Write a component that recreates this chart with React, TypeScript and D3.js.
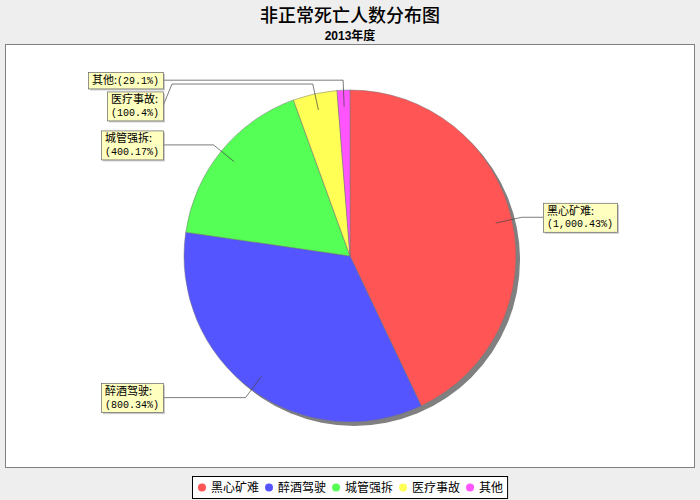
import { useEffect, useRef } from "react";
import * as d3 from "d3";

const categories = ["黑心矿难", "醉酒驾驶", "城管强拆", "医疗事故", "其他"];
const values = [1000, 800, 400, 100, 29];
const colors = ["#FF5555", "#5555FF", "#55FF55", "#FFFF55", "#FF55FF"];
// JFreeChart wrapped every label except the last one
const wrapLabel = [true, true, true, true, false];

const title = "非正常死亡人数分布图";
const subtitle = "2013年度";

const CJK = /[\u3000-\u9fff\uff00-\uffef]/;

// split a string into runs of CJK / non-CJK so each can get its own font
function appendRuns(text: d3.Selection<SVGTextElement, unknown, null, undefined>, str: string) {
  const runs: { cjk: boolean; s: string }[] = [];
  for (const ch of str) {
    const cjk = CJK.test(ch) || ch === ":";
    const last = runs[runs.length - 1];
    if (last && last.cjk === cjk) last.s += ch;
    else runs.push({ cjk, s: ch });
  }
  runs.forEach((r) => {
    text
      .append("tspan")
      .attr("font-family", r.cjk ? "'Noto Sans CJK SC'" : "'Liberation Mono', monospace")
      .attr("font-size", r.cjk ? 11 : 10)
      .text(r.s);
  });
}

const App = () => {
  const ref = useRef<SVGSVGElement>(null);

  useEffect(() => {
    const width = 700;
    const height = 500;
    const plot = { x: 5, y: 44, w: 690, h: 424 };
    const cx = 350;
    const cy = 256;
    const radius = 166;

    const svg = d3.select(ref.current);
    svg.selectAll("*").remove();

    svg.append("rect").attr("width", width).attr("height", height).attr("fill", "#eeeeee");

    // titles
    svg
      .append("text")
      .attr("x", width / 2)
      .attr("y", 22)
      .attr("text-anchor", "middle")
      .attr("font-family", "'Noto Sans CJK SC'")
      .attr("font-size", 18)
      .attr("font-weight", 500)
      .text(title);
    svg
      .append("text")
      .attr("x", width / 2)
      .attr("y", 40)
      .attr("text-anchor", "middle")
      .attr("font-family", "'Liberation Sans', 'Noto Sans CJK SC'")
      .attr("font-size", 12)
      .attr("font-weight", "bold")
      .text(subtitle);

    // plot area
    svg
      .append("rect")
      .attr("x", plot.x + 0.5)
      .attr("y", plot.y + 0.5)
      .attr("width", plot.w - 1)
      .attr("height", plot.h - 1)
      .attr("fill", "#ffffff")
      .attr("stroke", "#808080");

    const total = d3.sum(values);
    const pct = d3.format(".0%");
    const num = d3.format(",");

    const arcs = d3
      .pie<number>()
      .sort(null)
      .startAngle(0)
      .endAngle(2 * Math.PI)(values);
    const arc = d3.arc<d3.PieArcDatum<number>>().innerRadius(0).outerRadius(radius);

    const g = svg.append("g").attr("transform", `translate(${cx},${cy})`);

    // shadow
    svg
      .insert("circle", "g")
      .attr("cx", cx + 4)
      .attr("cy", cy + 4)
      .attr("r", radius)
      .attr("fill", "#808080");

    g.selectAll("path")
      .data(arcs)
      .enter()
      .append("path")
      .attr("d", arc)
      .attr("fill", (_, i) => colors[i])
      .attr("stroke", "#777")
      .attr("stroke-width", 0.5);

    const pt = (a: number, rr: number) => [cx + rr * Math.sin(a), cy - rr * Math.cos(a)];

    // labels
    const labels = arcs.map((d, i) => {
      const mid = (d.startAngle + d.endAngle) / 2;
      const right = mid < Math.PI;
      const inner = pt(mid, radius * 0.9);
      const elbow = pt(mid, radius * 1.06);
      const head = `${categories[i]}:`;
      const body = `(${num(values[i])}.${pct(values[i] / total)})`;
      const lines = wrapLabel[i] ? [head, body] : [head + body];
      return { i, right, inner, elbow, lines, top: 0, w: 0, h: 0 };
    });

    const labelLayer = svg.append("g");
    const linkLayer = svg.insert("g", "g:last-child");

    const padX = 3;
    const lineH = 12.5;
    const boxes = labels.map((l) => {
      const grp = labelLayer.append("g");
      const shadow = grp.append("rect").attr("fill", "rgba(151,151,151,0.5)");
      const bg = grp.append("rect").attr("fill", "#FFFFC0").attr("stroke", "#666").attr("stroke-width", 0.7);
      const texts = l.lines.map((s) => {
        const t = grp.append("text");
        appendRuns(t, s);
        return t;
      });
      const tw = d3.max(texts, (t) => (t.node() as SVGTextElement).getComputedTextLength()) || 0;
      l.w = tw + padX * 2 + 2;
      l.h = l.lines.length * lineH + 4;
      return { grp, shadow, bg, texts };
    });

    // stack labels per side so they do not overlap
    const gap = 3;
    [true, false].forEach((side) => {
      const list = labels.filter((l) => l.right === side).sort((a, b) => a.elbow[1] - b.elbow[1]);
      let prevBottom = -Infinity;
      list.forEach((l) => {
        let top = l.elbow[1] - l.h / 2;
        if (top < prevBottom + gap) top = prevBottom + gap;
        l.top = top;
        prevBottom = top + l.h;
      });
    });

    const leftEdge = 163;
    const rightEdge = 543;
    labels.forEach((l, k) => {
      const b = boxes[k];
      const x0 = l.right ? rightEdge : leftEdge - l.w;
      b.shadow.attr("x", x0 + 2).attr("y", l.top + 2).attr("width", l.w).attr("height", l.h);
      b.bg.attr("x", x0 + 0.5).attr("y", l.top + 0.5).attr("width", l.w).attr("height", l.h);
      b.texts.forEach((t, j) => {
        t.attr("x", x0 + padX + 1).attr("y", l.top + 2 + lineH * (j + 1) - 2.5);
      });

      const boxX = l.right ? x0 : x0 + l.w;
      const anchorX = l.right ? boxX - 10 : boxX + 9;
      const midY = l.top + l.h / 2;
      const path = d3.path();
      path.moveTo(l.inner[0], l.inner[1]);
      path.lineTo(l.elbow[0], l.elbow[1]);
      path.lineTo(anchorX, l.elbow[1]);
      path.lineTo(boxX, midY);
      linkLayer
        .append("path")
        .attr("d", path.toString())
        .attr("fill", "none")
        .attr("stroke", "#444")
        .attr("stroke-width", 0.7);
    });
    linkLayer.raise();
    labelLayer.raise();

    // legend
    const legend = svg.append("g");
    const items = categories.map((c, i) => {
      const t = legend
        .append("text")
        .attr("font-family", "'Noto Sans CJK SC'")
        .attr("font-size", 12)
        .text(c);
      const circ = legend.append("circle").attr("r", 4).attr("fill", colors[i]);
      return { t, circ, w: (t.node() as SVGTextElement).getComputedTextLength() };
    });
    const itemGap = 6;
    const symW = 8 + 5;
    const legendW = d3.sum(items, (d) => d.w + symW) + itemGap * (items.length - 1) + 10;
    const legendH = 22;
    const lx = Math.round(width / 2 - legendW / 2);
    const ly = 476;
    legend
      .insert("rect", ":first-child")
      .attr("x", lx + 0.5)
      .attr("y", ly + 0.5)
      .attr("width", legendW)
      .attr("height", legendH)
      .attr("fill", "#ffffff")
      .attr("stroke", "#000");
    let x = lx + 6;
    items.forEach((d) => {
      d.circ.attr("cx", x + 4).attr("cy", ly + legendH / 2 + 0.5);
      d.t.attr("x", x + symW).attr("y", ly + legendH / 2 + 5);
      x += symW + d.w + itemGap;
    });
  }, []);

  return (
    <svg
      ref={ref}
      width={700}
      height={500}
      style={{ position: "absolute", left: 0, top: 0, display: "block" }}
    />
  );
};

export default App;
